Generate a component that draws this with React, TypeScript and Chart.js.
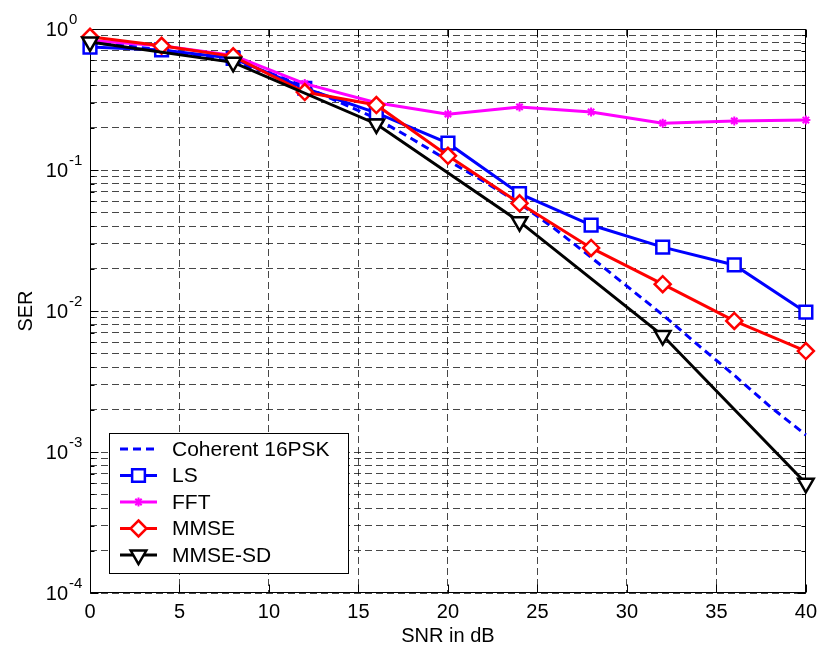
import React, { useEffect, useRef } from 'react';
import { Chart, registerables } from 'chart.js';

Chart.register(...registerables);

const FONT = "'Liberation Sans', Arial, Helvetica, sans-serif";

// SNR grids (dB)
const snrPsk = [0, 2, 4, 6, 8, 10, 12, 14, 16, 18, 20, 22, 24, 26, 28, 30, 32, 34, 36, 38, 40];
const snrStep4 = [0, 4, 8, 12, 16, 20, 24, 28, 32, 36, 40];
const snrStep8 = [0, 8, 16, 24, 32, 40];

// Symbol error rates
const serPsk = [0.8, 0.76, 0.71, 0.65, 0.58, 0.49, 0.39, 0.3, 0.232, 0.166, 0.117, 0.083, 0.058, 0.038, 0.024, 0.015, 0.0094, 0.0057, 0.0035, 0.0021, 0.00132];
const serLs = [0.745, 0.71, 0.62, 0.38, 0.254, 0.155, 0.068, 0.0407, 0.0284, 0.0212, 0.0098];
const serFft = [0.83, 0.76, 0.65, 0.41, 0.3, 0.249, 0.28, 0.258, 0.215, 0.223, 0.226];
const serMmse = [0.88, 0.76, 0.64, 0.357, 0.289, 0.126, 0.058, 0.028, 0.0155, 0.0085, 0.0052];
const serMmseSd = [0.81, 0.58, 0.212, 0.043, 0.0067, 0.0006];

const seriesNames = ['Coherent 16PSK', 'LS', 'FFT', 'MMSE', 'MMSE-SD'];

// Axis ticks
const xTickValues = [0, 5, 10, 15, 20, 25, 30, 35, 40];
const yDecades = [0, -1, -2, -3, -4];
const yMinorMultipliers = [2, 3, 4, 5, 6, 7, 8, 9];

const xTitle = 'SNR in dB';
const yTitle = 'SER';

type Marker = 'none' | 'rect' | 'rectRot' | 'triangleDown' | 'star';

interface SeriesStyle {
  color: string;
  dash: number[];
  marker: Marker;
  radius: number;
}

const styles: SeriesStyle[] = [
  { color: '#0000ff', dash: [8, 5], marker: 'none', radius: 0 },
  { color: '#0000ff', dash: [], marker: 'rect', radius: 9 },
  { color: '#ff00ff', dash: [], marker: 'star', radius: 4.5 },
  { color: '#ff0000', dash: [], marker: 'rectRot', radius: 8 },
  { color: '#000000', dash: [], marker: 'triangleDown', radius: 9 },
];

function pts(xs: number[], ys: number[]) {
  return xs.map((x, i) => ({ x, y: ys[i] }));
}

function drawMarker(ctx: CanvasRenderingContext2D, m: Marker, x: number, y: number, r: number, color: string) {
  if (m === 'none') return;
  ctx.save();
  ctx.setLineDash([]);
  ctx.strokeStyle = color;
  ctx.fillStyle = '#ffffff';
  ctx.lineWidth = m === 'star' ? 2 : 2.5;
  ctx.beginPath();
  if (m === 'rect') {
    const s = r * Math.SQRT1_2;
    ctx.rect(x - s, y - s, 2 * s, 2 * s);
    ctx.fill();
    ctx.stroke();
  } else if (m === 'rectRot') {
    ctx.moveTo(x, y - r);
    ctx.lineTo(x + r, y);
    ctx.lineTo(x, y + r);
    ctx.lineTo(x - r, y);
    ctx.closePath();
    ctx.fill();
    ctx.stroke();
  } else if (m === 'triangleDown') {
    const h = r * Math.sin(Math.PI / 3);
    ctx.moveTo(x, y + r);
    ctx.lineTo(x - h, y - r / 2);
    ctx.lineTo(x + h, y - r / 2);
    ctx.closePath();
    ctx.fill();
    ctx.stroke();
  } else if (m === 'star') {
    const d = r * Math.SQRT1_2;
    ctx.moveTo(x, y - r); ctx.lineTo(x, y + r);
    ctx.moveTo(x - r, y); ctx.lineTo(x + r, y);
    ctx.moveTo(x - d, y - d); ctx.lineTo(x + d, y + d);
    ctx.moveTo(x - d, y + d); ctx.lineTo(x + d, y - d);
    ctx.stroke();
  }
  ctx.restore();
}

const framePlugin = {
  id: 'frameAndLabels',
  beforeDatasetsDraw(chart: any) {
    const { ctx, chartArea: a, scales } = chart;
    const xs = scales.x;
    const ys = scales.y;
    ctx.save();
    ctx.strokeStyle = '#000';
    ctx.lineWidth = 1;
    ctx.setLineDash([]);
    const L = Math.round(a.left) + 0.5;
    const R = Math.round(a.right) - 0.5;
    const T = Math.round(a.top) + 0.5;
    const B = Math.round(a.bottom) - 0.5;
    ctx.strokeRect(L, T, R - L, B - T);

    // inward tick marks
    ctx.beginPath();
    for (const v of xTickValues) {
      const px = Math.round(xs.getPixelForValue(v)) + 0.5;
      ctx.moveTo(px, B); ctx.lineTo(px, B - 8);
      ctx.moveTo(px, T); ctx.lineTo(px, T + 8);
    }
    for (const t of ys.ticks) {
      const py = Math.round(ys.getPixelForValue(t.value)) + 0.5;
      const len = t.major ? 8 : 4;
      ctx.moveTo(L, py); ctx.lineTo(L + len, py);
      ctx.moveTo(R, py); ctx.lineTo(R - len, py);
    }
    ctx.stroke();

    // y tick labels as powers of ten
    ctx.fillStyle = '#000';
    for (const e of yDecades) {
      const py = ys.getPixelForValue(Math.pow(10, e));
      ctx.font = `20px ${FONT}`;
      ctx.textAlign = 'right';
      ctx.textBaseline = 'alphabetic';
      ctx.fillText('10', 68, py + 7);
      ctx.font = `15px ${FONT}`;
      ctx.textAlign = 'left';
      ctx.fillText(String(e), 69, py - 5);
    }

    // axis titles
    ctx.font = `20px ${FONT}`;
    ctx.textAlign = 'center';
    ctx.textBaseline = 'middle';
    ctx.fillText(xTitle, (a.left + a.right) / 2, 636);
    ctx.save();
    ctx.translate(26, (a.top + a.bottom) / 2);
    ctx.rotate(-Math.PI / 2);
    ctx.fillText(yTitle, 0, 0);
    ctx.restore();
    ctx.restore();
  },
  afterDraw(chart: any) {
    const { ctx } = chart;
    const bx = 109.5, by = 433.5, bw = 239, bh = 140;
    ctx.save();
    ctx.fillStyle = '#fff';
    ctx.fillRect(bx, by, bw, bh);
    ctx.strokeStyle = '#000';
    ctx.lineWidth = 1;
    ctx.setLineDash([]);
    ctx.strokeRect(bx, by, bw, bh);
    seriesNames.forEach((name, i) => {
      const st = styles[i];
      const cy = 449 + i * 26.5;
      ctx.strokeStyle = st.color;
      ctx.lineWidth = 3;
      ctx.setLineDash(st.dash);
      ctx.beginPath();
      ctx.moveTo(120, cy);
      ctx.lineTo(157, cy);
      ctx.stroke();
      ctx.setLineDash([]);
      drawMarker(ctx, st.marker, 138.5, cy, st.radius, st.color);
      ctx.fillStyle = '#000';
      ctx.font = `21px ${FONT}`;
      ctx.textAlign = 'left';
      ctx.textBaseline = 'middle';
      ctx.fillText(name, 172, cy + 1);
    });
    ctx.restore();
  },
};

export default function App() {
  const canvasRef = useRef<HTMLCanvasElement | null>(null);

  useEffect(() => {
    if (!canvasRef.current) return;
    Chart.defaults.font.family = FONT;

    const seriesData = [
      pts(snrPsk, serPsk),
      pts(snrStep4, serLs),
      pts(snrStep4, serFft),
      pts(snrStep4, serMmse),
      pts(snrStep8, serMmseSd),
    ];
    const chartPointStyles: any[] = [false, 'rect', 'star', 'rectRot', 'triangle'];
    const orders = [5, 4, 3, 2, 1];

    const datasets = seriesNames.map((label, i) => ({
      label,
      data: seriesData[i],
      borderColor: styles[i].color,
      backgroundColor: styles[i].color,
      borderWidth: 3,
      borderDash: styles[i].dash,
      pointStyle: chartPointStyles[i],
      pointRadius: styles[i].radius,
      pointHoverRadius: styles[i].radius,
      pointBorderWidth: i === 2 ? 2 : 2.5,
      pointBorderColor: styles[i].color,
      pointBackgroundColor: '#ffffff',
      pointRotation: i === 4 ? 180 : 0,
      fill: false,
      tension: 0,
      clip: false as any,
      order: orders[i],
    }));

    const yTicks: { value: number; major: boolean }[] = [];
    for (const e of [...yDecades].sort((a, b) => a - b)) {
      yTicks.push({ value: Math.pow(10, e), major: true });
      if (e < 0) {
        for (const m of yMinorMultipliers) yTicks.push({ value: m * Math.pow(10, e), major: false });
      }
    }

    const gridColor = 'rgba(0,0,0,0.72)';

    const chart = new Chart(canvasRef.current, {
      type: 'line',
      data: { datasets },
      plugins: [framePlugin],
      options: {
        animation: false,
        responsive: true,
        maintainAspectRatio: false,
        layout: { padding: { left: 0, right: 18, top: 29, bottom: 0 } },
        plugins: {
          legend: { display: false },
          tooltip: { enabled: false },
        },
        scales: {
          x: {
            type: 'linear',
            min: 0,
            max: 40,
            afterFit: (s: any) => { s.height = 56; },
            afterBuildTicks: (s: any) => { s.ticks = xTickValues.map((v) => ({ value: v })); },
            ticks: {
              color: '#000',
              font: { size: 20, family: FONT },
              padding: 7,
              maxRotation: 0,
              autoSkip: false,
            },
            grid: { color: gridColor, lineWidth: 1, drawTicks: false },
            border: { display: false, dash: [7, 4] },
          },
          y: {
            type: 'logarithmic',
            min: 1e-4,
            max: 1,
            afterFit: (s: any) => { s.width = 90; },
            afterBuildTicks: (s: any) => { s.ticks = yTicks.map((t) => ({ ...t })); },
            ticks: {
              callback: () => '',
              autoSkip: false,
            },
            grid: { color: gridColor, lineWidth: 1, drawTicks: false },
            border: { display: false, dash: [7, 4] },
          },
        },
      } as any,
    });

    return () => chart.destroy();
  }, []);

  return (
    <div style={{ position: 'fixed', left: 0, top: 0, width: 824, height: 649, background: '#fff' }}>
      <canvas ref={canvasRef} />
    </div>
  );
}
